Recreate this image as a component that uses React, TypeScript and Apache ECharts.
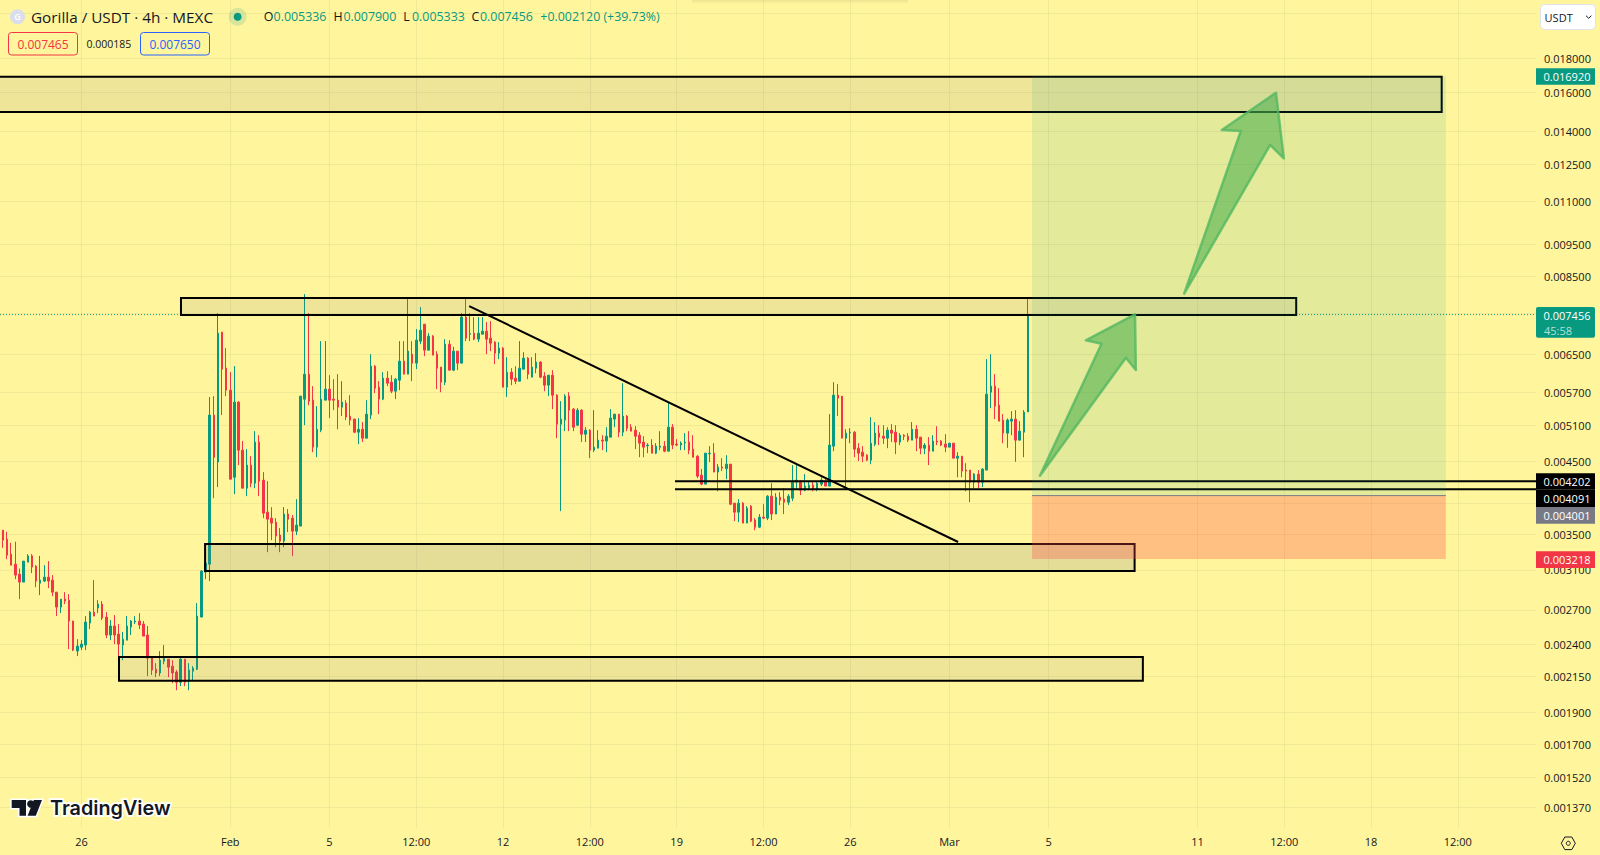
import React, { useEffect, useRef } from "react";
import * as echarts from "echarts";

// Prices are in millionths of USDT. Each candle is [open, close, low, high].
const MICRO = 1e-6;
const FIRST_CANDLE_INDEX = -20; // bars of 4h counted from 26 Jan 00:00

const candlesJanuary = [
  [3648,3553,3533,3657],[3553,3433,3344,3553],[3445,3260,3216,3533],[3272,3150,3150,3402],[3161,3044,3002,3414],
  [3054,2972,2803,3114],[2972,3194,2972,3194],[3183,3252,3183,3272],[3252,3129,3065,3272],[3139,2982,2921,3150],
  [2961,2992,2842,3252],[2982,3023,2972,3150],[3023,2982,2911,3194],[2992,2871,2832,3044],[2871,2727,2644,2871],
  [2727,2803,2671,2803],[2803,2784,2755,2871],[2793,2599,2360,2851],[2599,2352,2344,2602],[2344,2385,2304,2442],
  [2376,2401,2352,2434],[2393,2590,2352,2644],[2581,2680,2529,2690],[2680,2644,2644,2992],[2718,2755,2671,2793],
  [2755,2626,2608,2784],[2635,2477,2451,2680],[2477,2555,2434,2608],[2555,2477,2401,2653],[2485,2401,2249,2573],
  [2393,2442,2272,2503],[2434,2555,2434,2644],[2546,2599,2477,2608],[2590,2599,2573,2644],[2599,2564,2529,2671],
  [2573,2468,2468,2599],[2477,2288,2151,2555],[2296,2196,2159,2304],[2203,2174,2143,2249],[2174,2272,2151,2344],
  [2264,2288,2241,2393],[2280,2218,2143,2280],[2226,2174,2099,2272],[2181,2106,2049,2196],[2106,2280,2078,2288],
  [2280,2106,2078,2280],[2114,2196,2049,2249],[2188,2211,2121,2226],[2203,2644,2196,2765],[2635,3086,2635,3097],
  [3076,3172,3002,3294],[3161,5277,2982,5616],[5277,4566,3966,5633],[4490,6995,4120,7493],[7020,6181,5277,7020],
];
const candlesEarlyFebruary = [
  [6202,5750,5633,6644],[5750,4234,4234,6117],[4262,5518,4022,6245],[5518,4678,4444,5537],[4678,4105,4105,4826],
  [4105,4444,3994,4694],[4444,4176,4120,4582],[4176,4810,4105,4994],[4810,4205,3994,4925],[4220,3767,3703,4338],
  [3780,3690,3294,4205],[3703,3640,3433,3846],[3652,3481,3351,3703],[3493,3421,3294,3578],[3421,3755,3351,3846],
  [3755,3690,3529,3820],[3703,3541,3249,3742],[3541,3615,3493,3953],[3603,5633,3603,5633],[5575,6075,5098,8000],
  [6075,5537,5461,7493],[5556,4727,4646,5830],[4727,5027,4566,5443],[5011,5575,4977,6806],[5556,5770,5556,6806],
  [5770,5556,5223,6054],[5575,5556,5368,5972],[5556,5424,5027,6075],[5424,5518,5259,5930],[5499,5241,5187,5556],
  [5259,5187,5098,5652],[5205,4977,4960,5211],[4977,5027,4776,5223],[5027,4875,4810,5152],[4875,5295,4875,5556],
  [5277,6245,5205,6508],[6245,5790,5690,6267],[5810,5575,5295,5930],[5575,5992,5556,6117],[5992,5890,5830,6138],
  [5910,5730,5690,6054],[5730,5972,5575,5992],[5951,6353,5750,6806],[6353,6075,6075,6806],[6075,6575,6075,7890],
  [6508,6310,5930,6806],[6310,6829,6181,7094],[6806,7068,6735,7650],[7215,6598,6464,7215],[6598,6923,6598,6995],
  [6923,6486,6486,6947],[6508,6202,5770,6575],[6224,5910,5710,6224],[5910,6735,5850,6853],[6735,6160,6160,6829],
  [6160,6575,6138,6674],[6575,6310,6160,6575],[6310,7392,6310,7493],[7392,6876,6806,7918],[6971,6987,6806,7493],
];
const candlesMidFebruary = [
  [6995,6853,6829,7392],[6853,6995,6782,7392],[6971,7043,6971,7392],[7043,6853,6508,7265],[6876,6759,6575,7290],
  [6782,6530,6288,6806],[6530,6644,6397,6782],[6644,5810,5810,6667],[5810,6117,5614,6441],[6117,5972,5850,6202],
  [5992,5930,5870,6245],[5930,6202,5930,6806],[6181,6419,6181,6553],[6419,6075,5972,6441],[6013,6224,6013,6441],
  [6202,6332,6096,6530],[6332,6013,5992,6353],[6034,5850,5730,6117],[5850,6054,5633,6054],[6054,5652,5387,6160],
  [5652,5116,4875,5671],[5116,5205,3793,5537],[5187,5633,4994,5671],[5633,5368,4994,5710],[5387,5063,4994,5405],
  [5098,5368,5080,5405],[5368,4942,4810,5387],[4942,5011,4810,5063],[5011,4678,4551,5027],[4678,4727,4646,5368],
  [4710,4842,4710,5011],[4842,4826,4678,4925],[4826,4908,4646,5063],[4892,5223,4892,5387],[5205,5295,5063,5295],
  [5295,4977,4892,5295],[4977,5259,4908,5890],[5259,5045,4994,5277],[5063,4994,4994,5116],[5011,4908,4694,5080],
  [4925,4792,4566,4977],[4810,4727,4566,4908],[4749,4760,4630,4792],[4760,4630,4630,4858],[4630,4743,4614,4792],
  [4727,4743,4678,4994],[4743,4662,4646,4826],[4662,5063,4662,5518],[5063,4760,4694,5116],[4776,4760,4743,4858],
  [4760,4792,4678,4821],[4798,4810,4678,4960],[4810,4678,4614,4994],[4694,4566,4566,4925],[4582,4278,4248,4598],
  [4293,4162,4148,4385],[4162,4630,4162,4630],[4620,4630,4490,4743],[4630,4338,4338,4792],[4338,4413,4062,4458],
];
const candlesLateFebruary = [
  [4413,4398,4353,4551],[4390,4458,4234,4598],[4458,3885,3872,4458],[3899,3780,3665,3899],[3780,3899,3652,3953],
  [3899,3640,3640,3912],[3640,3833,3640,3859],[3859,3665,3652,3872],[3678,3590,3553,3703],[3590,3716,3578,3755],
  [3716,3703,3690,3885],[3703,3994,3678,4008],[3994,3755,3678,4176],[3755,3980,3755,4035],[3980,3939,3872,4049],
  [3953,3912,3755,4105],[3912,3994,3872,4022],[3966,4205,3926,4444],[4191,4220,4091,4444],[4205,4077,4008,4220],
  [4077,4134,4062,4308],[4110,4148,4077,4205],[4148,4091,4062,4191],[4091,4176,4062,4191],[4162,4220,4134,4262],
  [4191,4134,4134,4262],[4134,4760,4134,5295],[4743,5652,4662,5910],[5652,5594,5259,5870],[5633,4875,4875,5633],
  [4875,4960,4091,5027],[4965,4977,4792,5045],[4977,4694,4566,4994],[4710,4630,4505,4792],[4646,4582,4490,4743],
];
const candlesMarch = [
  [4598,4520,4505,4614],[4520,4792,4458,5241],[4776,4960,4743,5152],[4960,4892,4760,5098],[4908,4875,4776,5098],
  [4875,5011,4710,5063],[5011,4960,4810,5116],[4977,4810,4614,5098],[4810,4925,4760,4960],[4925,4908,4842,4942],
  [4908,4842,4810,4960],[4842,5027,4842,5152],[5027,4875,4662,5098],[4892,4710,4614,4892],[4710,4760,4614,4792],
  [4760,4662,4444,4892],[4662,4826,4662,4925],[4826,4810,4760,5080],[4826,4760,4743,4842],[4776,4727,4646,4942],
  [4727,4792,4727,4792],[4792,4551,4551,4792],[4551,4582,4262,4646],[4582,4353,4262,4582],[4368,4353,4062,4473],
  [4368,4191,3912,4368],[4191,4308,4105,4323],[4308,4191,4105,4368],[4191,4383,4120,4398],[4368,5671,4368,6397],
  [5710,5830,5405,6508],[5830,5443,5205,6075],[5461,5169,5169,5790],[5187,4960,4792,5295],[4960,5187,4716,5217],
  [5169,5205,4925,5350],[5205,4842,4494,5368],[4842,4994,4842,5169],[4977,5331,4566,5368],[5336,7456,5333,7900],
];

const xTickPositions = [0, 36, 60, 81, 102, 123, 144, 165, 186, 210, 234, 270, 291, 312, 333];
const xTickLabels = ["26", "Feb", "5", "12:00", "12", "12:00", "19", "12:00", "26", "Mar", "5", "11", "12:00", "18", "12:00"];
const yTickLabels = [0.018, 0.016, 0.014, 0.0125, 0.011, 0.0095, 0.0085, 0.0065, 0.0057, 0.0051, 0.0045, 0.0035, 0.0031, 0.0027, 0.0024, 0.00215, 0.0019, 0.0017, 0.00152, 0.00137];
const yGridValues = [0.021, ...yTickLabels, 0.0075, 0.0039];

// Drawing tools: [first bar, last bar, upper price, lower price]
const lightZones = [
  [-30, 329.1, 16900, 14965],
  [24.07, 293.9, 7893, 7445],
  [9.07, 256.8, 2297, 2117],
];
const darkZones = [[29.9, 254.8, 3388, 3088]];
const targetZone = [[230, 330.1, 16920, 4001]];
const stopZone = [[230, 330.1, 4001, 3218]];
const entryPrice = 4001;
const levelLines = [[143.6, 351.92, 4202], [143.6, 351.92, 4091]];
const trendLine = [[93.8, 7679], [212.1, 3411]];
const lastPrice = 7456;
const arrowOne = [[231.9, 4284], [252.7, 6428], [255.1, 6163], [254.9, 7463], [243.0, 6826], [246.8, 6747]];
const arrowTwo = [[266.8, 8012], [287.6, 13360], [290.9, 12762], [289.0, 15991], [275.9, 14067], [280.5, 14019]];

const ohlcLegend = [
  ["O", "0.005336", 263.7, 273.6],
  ["H", "0.007900", 333.5, 343.4],
  ["L", "0.005333", 403.3, 412],
  ["C", "0.007456", 471.4, 480],
];
const changeLegend = "+0.002120 (+39.73%)";
const priceTags = [
  { text: "0.016920", y0: 68.3, y1: 84.7, fill: "#089981" },
  { text: "0.004202", y0: 473.3, y1: 489.7, fill: "#000000" },
  { text: "0.004091", y0: 489.7, y1: 507, fill: "#000000" },
  { text: "0.004001", y0: 507, y1: 523.7, fill: "#787B86" },
  { text: "0.003218", y0: 551.3, y1: 568, fill: "#F23645" },
];

const FONT = '"Open Sans", sans-serif';
const GREEN = "#089981";
const RED = "#F23645";
const INK = "#131722";
const X_MIN = -19.72;
const X_MAX = 351.92;
const Y_MIN = 0.0012758;
const Y_MAX = 0.021996;

const allCandles = [...candlesJanuary, ...candlesEarlyFebruary, ...candlesMidFebruary, ...candlesLateFebruary, ...candlesMarch];

function zoneSeries(name: string, zones: number[][], fill: string, stroke: string, lineWidth: number, z: number) {
  return {
    type: "custom",
    name,
    silent: true,
    z,
    clip: true,
    data: zones.map(([a, b, top, bottom]) => [a, b, top * MICRO, bottom * MICRO]),
    encode: { x: [0, 1], y: [2, 3] },
    renderItem: (_: any, api: any) => {
      const p0 = api.coord([api.value(0), api.value(2)]);
      const p1 = api.coord([api.value(1), api.value(3)]);
      return {
        type: "rect",
        shape: { x: p0[0], y: p0[1], width: p1[0] - p0[0], height: p1[1] - p0[1] },
        style: { fill, stroke, lineWidth },
      };
    },
  };
}

function polySeries(name: string, points: number[][], closed: boolean, style: any, z: number) {
  return {
    type: "custom",
    name,
    silent: true,
    z,
    clip: true,
    data: points.map(([x, p]) => [x, p * MICRO]),
    encode: { x: 0, y: 1 },
    renderItem: (params: any, api: any) => {
      if (params.dataIndex !== 0) return null;
      const pts = points.map(([x, p]) => api.coord([x, p * MICRO]));
      return { type: closed ? "polygon" : "polyline", shape: { points: pts }, style };
    },
  };
}

function buildOption() {
  const arrowStyle = { fill: "rgba(76,175,80,0.58)", stroke: "rgba(84,184,96,0.8)", lineWidth: 2.5, lineJoin: "round" };
  const graphics: any[] = [
    {
      type: "rect",
      shape: { x: 692, y: 0, width: 216, height: 4 },
      style: {
        fill: new echarts.graphic.LinearGradient(0, 0, 0, 1, [
          { offset: 0, color: "rgba(130,120,70,0.14)" },
          { offset: 1, color: "rgba(130,120,70,0)" },
        ]),
      },
    },
    { type: "circle", shape: { cx: 17.5, cy: 16.7, r: 7.5 }, style: { fill: "#DADDEB" } },
    { type: "text", x: 17.5, y: 16.7, style: { text: "G", fill: "#FFFFFF", font: `600 9px ${FONT}`, textAlign: "center", textVerticalAlign: "middle" } },
    { type: "text", x: 31, y: 16.7, style: { text: "Gorilla / USDT · 4h · MEXC", fill: INK, font: `15.3px ${FONT}`, textVerticalAlign: "middle" } },
    { type: "circle", shape: { cx: 237.6, cy: 16.7, r: 9 }, style: { fill: "rgba(8,153,129,0.16)" } },
    { type: "circle", shape: { cx: 237.6, cy: 16.7, r: 4 }, style: { fill: GREEN } },
    { type: "text", x: 540.3, y: 16.7, style: { text: changeLegend, fill: GREEN, font: `12.4px ${FONT}`, textVerticalAlign: "middle" } },
    { type: "rect", shape: { x: 8.5, y: 32.5, width: 69, height: 22.5, r: 3 }, style: { fill: "rgba(255,255,255,0)", stroke: RED, lineWidth: 1 } },
    { type: "text", x: 43, y: 44, style: { text: "0.007465", fill: RED, font: `12px ${FONT}`, textAlign: "center", textVerticalAlign: "middle" } },
    { type: "text", x: 108.8, y: 44, style: { text: "0.000185", fill: INK, font: `10.5px ${FONT}`, textAlign: "center", textVerticalAlign: "middle" } },
    { type: "rect", shape: { x: 140.5, y: 32.5, width: 69, height: 22.5, r: 3 }, style: { fill: "rgba(255,255,255,0)", stroke: "#2962FF", lineWidth: 1 } },
    { type: "text", x: 175, y: 44, style: { text: "0.007650", fill: "#2962FF", font: `12px ${FONT}`, textAlign: "center", textVerticalAlign: "middle" } },
    { type: "rect", shape: { x: 1540.5, y: 4.5, width: 55, height: 25, r: 4 }, style: { fill: "#FFFFFF", stroke: "#E0E3EB", lineWidth: 1 } },
    { type: "text", x: 1544.6, y: 17, style: { text: "USDT", fill: INK, font: `11px ${FONT}`, textVerticalAlign: "middle" } },
    { type: "polyline", shape: { points: [[1586, 15.7], [1588.7, 18.3], [1591.4, 15.7]] }, style: { stroke: INK, lineWidth: 1, fill: "none" } },
    { type: "rect", shape: { x: 1536, y: 307, width: 59, height: 30.7, r: 2 }, style: { fill: GREEN } },
    { type: "text", x: 1567, y: 315.6, style: { text: "0.007456", fill: "#FFFFFF", font: `11px ${FONT}`, textAlign: "center", textVerticalAlign: "middle" } },
    { type: "text", x: 1544, y: 330, style: { text: "45:58", fill: "#B5E0D8", font: `11px ${FONT}`, textVerticalAlign: "middle" } },
    { type: "polygon", shape: { points: [[1561.3, 843.3], [1564.8, 837], [1571.8, 837], [1575.3, 843.3], [1571.8, 849.6], [1564.8, 849.6]] }, style: { fill: "none", stroke: INK, lineWidth: 1 } },
    { type: "circle", shape: { cx: 1568.3, cy: 843.3, r: 2 }, style: { fill: "none", stroke: INK, lineWidth: 1 } },
    { type: "polygon", shape: { points: [[11.7, 800], [26, 800], [26, 815.7], [19.5, 815.7], [19.5, 808], [11.7, 808]] }, style: { fill: "#FFFFFF", stroke: "#FFFFFF", lineWidth: 3 } },
    { type: "circle", shape: { cx: 30.8, cy: 804, r: 3.7 }, style: { fill: "#FFFFFF", stroke: "#FFFFFF", lineWidth: 3 } },
    { type: "polygon", shape: { points: [[33.8, 800], [42, 800], [35.8, 815.7], [27.6, 815.7]] }, style: { fill: "#FFFFFF", stroke: "#FFFFFF", lineWidth: 3 } },
    { type: "polygon", shape: { points: [[11.7, 800], [26, 800], [26, 815.7], [19.5, 815.7], [19.5, 808], [11.7, 808]] }, style: { fill: INK } },
    { type: "circle", shape: { cx: 30.8, cy: 804, r: 3.7 }, style: { fill: INK } },
    { type: "polygon", shape: { points: [[33.8, 800], [42, 800], [35.8, 815.7], [27.6, 815.7]] }, style: { fill: INK } },
    { type: "text", x: 50, y: 807.5, style: { text: "TradingView", fill: "#FFFFFF", font: `600 19.8px Inter, ${FONT}`, textVerticalAlign: "middle", stroke: "#FFFFFF", lineWidth: 3.5 } },
    { type: "text", x: 50, y: 807.5, style: { text: "TradingView", fill: INK, font: `600 19.8px Inter, ${FONT}`, textVerticalAlign: "middle" } },
  ];
  for (const [letter, value, lx, vx] of ohlcLegend) {
    graphics.push({ type: "text", x: lx, y: 16.7, style: { text: letter, fill: INK, font: `12.4px ${FONT}`, textVerticalAlign: "middle" } });
    graphics.push({ type: "text", x: vx, y: 16.7, style: { text: value, fill: GREEN, font: `12.4px ${FONT}`, textVerticalAlign: "middle" } });
  }
  for (const tag of priceTags) {
    graphics.push({ type: "rect", shape: { x: 1536, y: tag.y0, width: 59, height: tag.y1 - tag.y0 }, style: { fill: tag.fill } });
    graphics.push({ type: "text", x: 1567, y: (tag.y0 + tag.y1) / 2, style: { text: tag.text, fill: "#FFFFFF", font: `11px ${FONT}`, textAlign: "center", textVerticalAlign: "middle" } });
  }

  return {
    animation: false,
    backgroundColor: "#FFF59D",
    textStyle: { fontFamily: FONT },
    grid: { left: 0, top: 0, width: 1536, height: 828, containLabel: false },
    xAxis: {
      type: "value",
      min: X_MIN,
      max: X_MAX,
      axisLine: { show: false },
      axisTick: { show: false, customValues: xTickPositions },
      splitLine: { show: true, lineStyle: { color: "rgba(42,46,57,0.06)", width: 1 } },
      axisLabel: {
        customValues: xTickPositions,
        color: INK,
        fontSize: 11,
        fontFamily: FONT,
        margin: 8,
        formatter: (v: number) => xTickLabels[xTickPositions.indexOf(v)] ?? "",
      },
    },
    yAxis: {
      type: "log",
      position: "right",
      min: Y_MIN,
      max: Y_MAX,
      axisLine: { show: false },
      axisTick: { show: false, customValues: yGridValues },
      splitLine: { show: true, lineStyle: { color: "rgba(42,46,57,0.06)", width: 1 } },
      axisLabel: {
        customValues: yTickLabels,
        color: INK,
        fontSize: 11,
        fontFamily: FONT,
        margin: 8,
        formatter: (v: number) => v.toFixed(6),
      },
    },
    graphic: { elements: graphics.map((g) => ({ ...g, z: 100, silent: true })) },
    series: [
      {
        type: "candlestick",
        z: 2,
        barWidth: 2,
        large: false,
        clip: true,
        encode: { x: 0, y: [1, 2, 3, 4] },
        itemStyle: { color: GREEN, color0: RED, borderColor: GREEN, borderColor0: RED, borderWidth: 1 },
        data: allCandles.map((c, k) => [FIRST_CANDLE_INDEX + k, c[0] * MICRO, c[1] * MICRO, c[2] * MICRO, c[3] * MICRO]),
      },
      polySeries("last price", [[X_MIN, lastPrice], [X_MAX, lastPrice]], false, { stroke: GREEN, lineWidth: 1, lineDash: [1, 2], fill: "none" }, 3),
      zoneSeries("zones", lightZones, "rgba(120,123,134,0.13)", "#000000", 2, 4),
      zoneSeries("zone dark", darkZones, "rgba(120,123,134,0.2)", "#000000", 2, 4),
      polySeries("trend", trendLine, false, { stroke: "#000000", lineWidth: 2, fill: "none" }, 4),
      ...levelLines.map((l, n) =>
        polySeries(`level ${n}`, [[l[0], l[2]], [l[1], l[2]]], false, { stroke: "#000000", lineWidth: 2, fill: "none" }, 4)
      ),
      zoneSeries("target", targetZone, "rgba(8,153,129,0.115)", "none", 0, 5),
      zoneSeries("stop", stopZone, "rgba(255,68,70,0.3)", "none", 0, 5),
      polySeries("entry", [[targetZone[0][0], entryPrice], [targetZone[0][1], entryPrice]], false, { stroke: "#787B86", lineWidth: 1, fill: "none" }, 5),
      polySeries("arrow one", arrowOne, true, arrowStyle, 6),
      polySeries("arrow two", arrowTwo, true, arrowStyle, 6),
    ],
  };
}

export default function App() {
  const ref = useRef<HTMLDivElement>(null);
  useEffect(() => {
    const chart = echarts.init(ref.current!, undefined, { renderer: "svg" });
    chart.setOption(buildOption() as any);
    return () => chart.dispose();
  }, []);
  return <div ref={ref} style={{ position: "fixed", left: 0, top: 0, width: 1600, height: 855 }} />;
}
